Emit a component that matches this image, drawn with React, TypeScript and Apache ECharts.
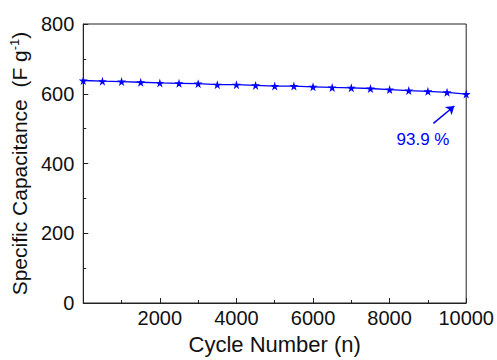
import React, { useEffect, useRef } from "react";
import * as echarts from "echarts";

const cycles = [0, 500, 1000, 1500, 2000, 2500, 3000, 3500, 4000, 4500, 5000, 5500, 6000, 6500, 7000, 7500, 8000, 8500, 9000, 9500, 10000];
const capacitance = [638, 636, 635, 633, 631, 630, 629, 626, 626, 624, 622, 622, 620, 618, 617, 615, 612, 609, 607, 604, 599];
const retentionLabel = "93.9 %";
const arrowStart = [9143, 515];
const arrowEnd = [9690, 565];

const STAR = "path://M50,0 L61,35 L98,35 L68,57 L79,91 L50,70 L21,91 L32,57 L2,35 L39,35 Z";
const FONT = "'Liberation Sans', Arial, sans-serif";
const BLUE = "#0000ff";

export default function App() {
  const ref = useRef<HTMLDivElement>(null);
  useEffect(() => {
    if (!ref.current) return;
    const chart = echarts.init(ref.current, null, { renderer: "svg" });
    chart.setOption({
      animation: false,
      backgroundColor: "#fff",
      textStyle: { fontFamily: FONT },
      grid: {
        left: 82,
        right: 30,
        top: 24,
        bottom: 50,
        show: true,
        borderColor: "#222",
        borderWidth: 1,
        containLabel: false,
      },
      xAxis: {
        type: "value",
        min: 0,
        max: 10000,
        interval: 2000,
        name: "Cycle Number (n)",
        nameLocation: "middle",
        nameGap: 30,
        nameTextStyle: { fontSize: 22, color: "#111", fontFamily: FONT },
        axisLine: { show: true, lineStyle: { color: "#222", width: 1 } },
        axisTick: { show: true, inside: true, length: 5, lineStyle: { color: "#222" } },
        minorTick: { show: true, splitNumber: 2, length: 3, lineStyle: { color: "#222" } },
        splitLine: { show: false },
        axisLabel: {
          fontSize: 20,
          color: "#111",
          margin: 5,
          fontFamily: FONT,
          formatter: (v: number) => (v === 0 ? "" : String(v)),
        },
      },
      yAxis: {
        type: "value",
        min: 0,
        max: 800,
        interval: 200,
        name: "{n|Specific Capacitance  (F g}{s|-1}{n|)}",
        nameLocation: "middle",
        nameGap: 46,
        nameRotate: 90,
        nameTextStyle: {
          fontFamily: FONT,
          rich: {
            n: { fontSize: 21, color: "#111", fontFamily: FONT },
            s: { fontSize: 13, color: "#111", fontFamily: FONT, padding: [0, 0, 10, 0] },
          },
        },
        axisLine: { show: true, lineStyle: { color: "#222", width: 1 } },
        axisTick: { show: true, inside: true, length: 5, lineStyle: { color: "#222" } },
        minorTick: { show: true, splitNumber: 2, length: 3, lineStyle: { color: "#222" } },
        splitLine: { show: false },
        axisLabel: { fontSize: 20, color: "#111", margin: 9, fontFamily: FONT },
      },
      series: [
        {
          type: "line",
          data: cycles.map((c, i) => [c, capacitance[i]]),
          symbol: STAR,
          symbolSize: 9,
          showAllSymbol: true,
          itemStyle: { color: BLUE },
          lineStyle: { color: BLUE, width: 1.3 },
          markLine: {
            silent: true,
            symbol: ["none", "arrow"],
            symbolSize: 8,
            label: { show: false },
            lineStyle: { color: BLUE, width: 1.5, type: "solid" },
            data: [[{ coord: arrowStart }, { coord: arrowEnd }]],
          },
        },
      ],
      graphic: [
        {
          type: "text",
          x: 423,
          y: 139,
          style: {
            text: retentionLabel,
            fill: BLUE,
            fontSize: 17,
            fontFamily: FONT,
            textAlign: "center",
            textVerticalAlign: "middle",
          },
        },
      ],
    });
    return () => chart.dispose();
  }, []);
  return <div ref={ref} style={{ width: 497, height: 360, position: "absolute", left: 0, top: 0 }} />;
}
